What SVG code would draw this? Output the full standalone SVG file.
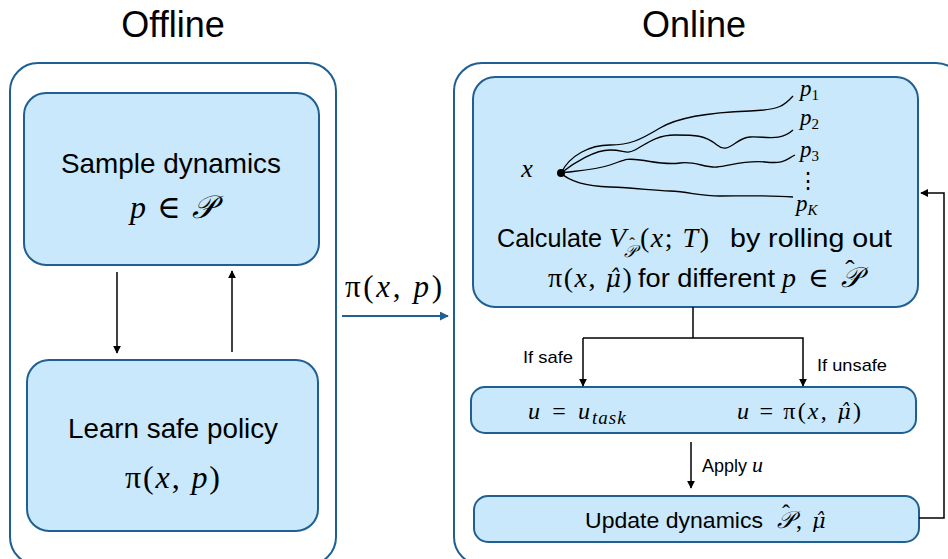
<svg xmlns="http://www.w3.org/2000/svg" width="948" height="559" viewBox="0 0 948 559">
<defs>
<marker id="ab" viewBox="0 0 10 10" refX="9" refY="5" markerWidth="8" markerHeight="8" markerUnits="userSpaceOnUse" orient="auto"><path d="M0,0 L10,5 L0,10 z" fill="#000"/></marker>
<marker id="ablue" viewBox="0 0 10 10" refX="9" refY="5" markerWidth="9" markerHeight="9" markerUnits="userSpaceOnUse" orient="auto"><path d="M0,0 L10,5 L0,10 z" fill="#1f5f91"/></marker>
<style>
.outer{fill:#fff;stroke:#1f5f91;stroke-width:2}
.box{fill:#c9e8fb;stroke:#1f5f91;stroke-width:2}
.t{font-family:"Liberation Sans",Arial,sans-serif;fill:#000}
.m{font-family:"Liberation Serif","DejaVu Serif",serif;fill:#000}
.i{font-style:italic}
.dj{font-family:"DejaVu Serif",serif;font-style:italic}
.h{font-style:normal;text-anchor:middle;letter-spacing:0}
.ln{fill:none;stroke:#000;stroke-width:1.5}
.cv{fill:none;stroke:#000;stroke-width:1.3}
</style>
</defs>
<rect width="948" height="559" fill="#fff"/>
<text class="t" x="173" y="37" font-size="36" text-anchor="middle">Offline</text>
<text class="t" x="694" y="37" font-size="36" text-anchor="middle">Online</text>

<g id="offline">
<rect class="outer" x="10" y="63" width="326" height="502" rx="28"/>
</g>
<g id="online">
<rect class="outer" x="454" y="63" width="510" height="502" rx="28"/>
</g>

<g id="sample">
<rect class="box" x="24" y="93" width="295" height="172" rx="22"/>
<text class="t" x="61" y="173" font-size="28" textLength="220" lengthAdjust="spacingAndGlyphs">Sample dynamics</text>
<text class="m" x="130" y="218" font-size="32" textLength="85" lengthAdjust="spacing"><tspan class="i">p</tspan> ∈ <tspan class="i">𝒫</tspan></text>
</g>

<g id="learn">
<rect class="box" x="27" y="360" width="291" height="171" rx="22"/>
<text class="t" x="68" y="438" font-size="28" textLength="210" lengthAdjust="spacingAndGlyphs">Learn safe policy</text>
<text class="m" x="125" y="488" font-size="32" textLength="95" lengthAdjust="spacing">π(<tspan class="i">x</tspan>, <tspan class="i">p</tspan>)</text>
</g>

<g id="calc">
<rect class="box" x="473" y="77" width="445" height="230" rx="22"/>
<text class="m i" x="527" y="177" font-size="26" text-anchor="middle">x</text>
<circle cx="561" cy="173" r="4" fill="#000"/>
<path class="cv" d="M561,173 C570,155 590,145 610,145 S640,140 660,128 S720,112 750,111 S785,105 793,96"/>
<path class="cv" d="M561,173 C575,162 595,150 610,150 S625,155 635,150 S655,135 675,135 S705,135 717,145 S735,138 750,137 S780,142 793,130"/>
<path class="cv" d="M561,173 C575,171 595,170 610,165 S625,158 640,160 S665,165 680,163 S705,168 717,167 S745,160 765,162 S785,160 795,155"/>
<path class="cv" d="M561,173 C570,182 585,186 610,187 S650,190 670,191 S700,196 720,196 S770,195 793,197"/>
<text class="m i" x="800" y="96" font-size="23">p<tspan font-size="15" font-style="normal" dy="4">1</tspan></text>
<text class="m i" x="800" y="125" font-size="23">p<tspan font-size="15" font-style="normal" dy="4">2</tspan></text>
<text class="m i" x="800" y="157" font-size="23">p<tspan font-size="15" font-style="normal" dy="4">3</tspan></text>
<text class="m" x="808" y="188" font-size="22" text-anchor="middle">⋮</text>
<text class="m i" x="796" y="211" font-size="23">p<tspan font-size="15" dy="4">K</tspan></text>
<text class="t" x="497" y="247" font-size="26" textLength="105" lengthAdjust="spacingAndGlyphs">Calculate</text>
<text class="m i" x="609" y="247" font-size="28">V</text>
<text class="m i" x="624" y="257" font-size="17">𝒫<tspan class="h" x="632" y="249">ˆ</tspan></text>
<text class="m" x="640" y="247" font-size="28" letter-spacing="1.5">(<tspan class="i">x</tspan>; <tspan class="i">T</tspan>)</text>
<text class="t" x="730" y="247" font-size="26" textLength="162" lengthAdjust="spacingAndGlyphs">by rolling out</text>
<text class="m" x="548" y="287" font-size="28" letter-spacing="1.5">π(<tspan class="i">x</tspan>, <tspan class="dj" font-size="24">μ̂</tspan>)</text>
<text class="t" x="638" y="287" font-size="26" textLength="137" lengthAdjust="spacingAndGlyphs">for different</text>
<text class="m" x="782" y="287" font-size="28" letter-spacing="2.5"><tspan class="i">p</tspan> ∈ <tspan class="i">𝒫</tspan><tspan class="h" x="850" y="279">ˆ</tspan></text>
</g>

<g id="action">
<rect class="box" x="471" y="387" width="445" height="46" rx="14"/>
<text class="m" x="528" y="419" font-size="24" textLength="62" lengthAdjust="spacing"><tspan class="i">u</tspan> = <tspan class="i">u</tspan></text>
<text class="m i" x="592" y="424" font-size="19" letter-spacing="1">task</text>
<text class="m" x="737" y="419" font-size="24" letter-spacing="2.2"><tspan class="i">u</tspan> = π(<tspan class="i">x</tspan>, <tspan class="dj" font-size="21">μ̂</tspan>)</text>
</g>

<g id="update">
<rect class="box" x="474" y="496" width="445" height="46" rx="14"/>
<text class="t" x="585" y="528" font-size="22" textLength="178" lengthAdjust="spacingAndGlyphs">Update dynamics</text>
<text class="m" x="777" y="528" font-size="24" letter-spacing="2"><tspan class="i">𝒫</tspan>, <tspan class="dj" font-size="21">μ̂</tspan><tspan class="h" x="786" y="521">ˆ</tspan></text>
</g>

<g id="connectors">
<line class="ln" x1="117" y1="272" x2="117" y2="353" marker-end="url(#ab)"/>
<line class="ln" x1="232" y1="352" x2="232" y2="271" marker-end="url(#ab)"/>
<line x1="342" y1="316" x2="448" y2="316" stroke="#1f5f91" stroke-width="2" marker-end="url(#ablue)"/>
<text class="m" x="345" y="297" font-size="31" textLength="97" lengthAdjust="spacing">π(<tspan class="i">x</tspan>, <tspan class="i">p</tspan>)</text>
<polyline class="ln" points="693,307 693,338"/>
<polyline class="ln" points="583,338 803,338 803,386" marker-end="url(#ab)"/>
<line class="ln" x1="583" y1="338" x2="583" y2="386" marker-end="url(#ab)"/>
<text class="t" x="523" y="363" font-size="17" textLength="50" lengthAdjust="spacingAndGlyphs">If safe</text>
<text class="t" x="817" y="371" font-size="17" textLength="70" lengthAdjust="spacingAndGlyphs">If unsafe</text>
<line class="ln" x1="691" y1="442" x2="691" y2="488" marker-end="url(#ab)"/>
<text class="t" x="702" y="472" font-size="18">Apply <tspan class="m i" font-size="22">u</tspan></text>
<polyline class="ln" points="919,518 944,518 944,193 921,193" marker-end="url(#ab)"/>
</g>
</svg>
